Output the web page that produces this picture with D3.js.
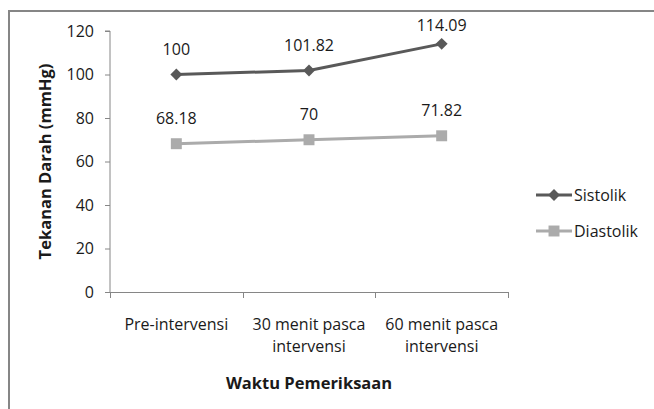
<!DOCTYPE html>
<html>
<head>
<meta charset="utf-8">
<script src="https://cdn.jsdelivr.net/npm/d3@7"></script>
<style>
  html, body { margin: 0; padding: 0; background: #fff; }
  svg { display: block; font-family: "Open Sans", Lato, "Liberation Sans", sans-serif; }
</style>
</head>
<body>
<svg id="chart" width="654" height="409"></svg>
<script>
// Blood pressure measurements over three examination times
const categories = [["Pre-intervensi"], ["30 menit pasca", "intervensi"], ["60 menit pasca", "intervensi"]];
const sistolik = [100, 101.82, 114.09];
const diastolik = [68.18, 70, 71.82];
const yTicks = [0, 20, 40, 60, 80, 100, 120];
const seriesNames = ["Sistolik", "Diastolik"];

const svg = d3.select("#chart");
const axisColor = "#868686";
const textColor = "#1a1a1a";
const colors = ["#595959", "#ababab"];
const fontSize = "16px";
const titleSize = "16.5px";

// outer frame
svg.append("rect")
  .attr("x", 9).attr("y", 11).attr("width", 660).attr("height", 420)
  .attr("fill", "none").attr("stroke", "#868686").attr("stroke-width", 2);

const plot = { left: 110, right: 508, top: 31, bottom: 292 };

const x = d3.scaleBand().domain(d3.range(categories.length))
  .range([plot.left, plot.right]).paddingInner(0).paddingOuter(0);
const y = d3.scaleLinear().domain([0, 120]).range([plot.bottom, plot.top]);

// y axis
const yAxis = svg.append("g").attr("transform", `translate(${plot.left},0)`)
  .call(d3.axisLeft(y).tickValues(yTicks).tickSize(5).tickPadding(11));
yAxis.select(".domain").attr("stroke", axisColor).attr("d", `M-5,${plot.top}H0V${plot.bottom}`);
yAxis.selectAll(".tick line").attr("stroke", axisColor);
yAxis.selectAll(".tick text").attr("fill", textColor).style("font-size", fontSize)
  .style("font-family", "'Open Sans', Lato, sans-serif");

// x axis
const xAxis = svg.append("g").attr("transform", `translate(0,${plot.bottom})`);
xAxis.append("line").attr("x1", plot.left - 4).attr("x2", plot.right)
  .attr("y1", 0.5).attr("y2", 0.5).attr("stroke", axisColor);
const boundaries = d3.range(categories.length + 1).map(i => i < categories.length ? x(i) : x(i - 1) + x.bandwidth());
xAxis.selectAll("line.tk").data(boundaries).enter().append("line")
  .attr("class", "tk")
  .attr("x1", d => Math.round(d) + 0.5).attr("x2", d => Math.round(d) + 0.5)
  .attr("y1", 0).attr("y2", 6).attr("stroke", axisColor);

categories.forEach((lines, i) => {
  const t = svg.append("text")
    .attr("x", x(i) + x.bandwidth() / 2)
    .attr("y", 330)
    .attr("text-anchor", "middle")
    .attr("fill", textColor)
    .style("font-size", fontSize);
  lines.forEach((ln, j) => {
    t.append("tspan").attr("x", x(i) + x.bandwidth() / 2).attr("dy", j === 0 ? 0 : 22).text(ln);
  });
});

// axis titles
svg.append("text")
  .attr("x", (plot.left + plot.right) / 2).attr("y", 389)
  .attr("text-anchor", "middle").attr("fill", textColor)
  .style("font-size", titleSize).style("font-weight", "bold")
  .text("Waktu Pemeriksaan");

svg.append("text")
  .attr("transform", `translate(51,${(plot.top + plot.bottom) / 2}) rotate(-90)`)
  .attr("text-anchor", "middle").attr("fill", textColor)
  .style("font-size", titleSize).style("font-weight", "bold")
  .text("Tekanan Darah (mmHg)");

// series
const allSeries = [sistolik, diastolik];
const cx = i => x(i) + x.bandwidth() / 2;
const line = d3.line().x((d, i) => cx(i)).y(d => y(d));

allSeries.forEach((vals, s) => {
  svg.append("path").datum(vals)
    .attr("d", line).attr("fill", "none")
    .attr("stroke", colors[s]).attr("stroke-width", 3).attr("stroke-linejoin", "round");
});

const diamond = d3.symbol().type(d3.symbolDiamond2).size(90);
const square = d3.symbol().type(d3.symbolSquare).size(120);
const markers = [diamond, square];

allSeries.forEach((vals, s) => {
  svg.selectAll(null).data(vals).enter().append("path")
    .attr("d", markers[s])
    .attr("transform", (d, i) => `translate(${cx(i)},${y(d)})`)
    .attr("fill", colors[s]);
  // value labels sit above each point, kept below the top edge of the frame
  svg.selectAll(null).data(vals).enter().append("text")
    .attr("x", (d, i) => cx(i)).attr("y", d => Math.max(y(d) - 25, 25))
    .attr("dy", "0.35em")
    .attr("text-anchor", "middle").attr("fill", textColor)
    .style("font-size", fontSize)
    .text(d => String(d));
});

// legend
const legendY = [195, 231];
seriesNames.forEach((name, s) => {
  const g = svg.append("g").attr("transform", `translate(536,${legendY[s]})`);
  g.append("line").attr("x1", 0).attr("x2", 36).attr("y1", 0).attr("y2", 0)
    .attr("stroke", colors[s]).attr("stroke-width", 3);
  g.append("path").attr("d", markers[s])
    .attr("transform", "translate(18,0)")
    .attr("fill", colors[s]);
  g.append("text").attr("x", 38).attr("y", 0).attr("dy", "0.35em")
    .attr("fill", textColor).style("font-size", fontSize).text(name);
});
</script>
</body>
</html>
